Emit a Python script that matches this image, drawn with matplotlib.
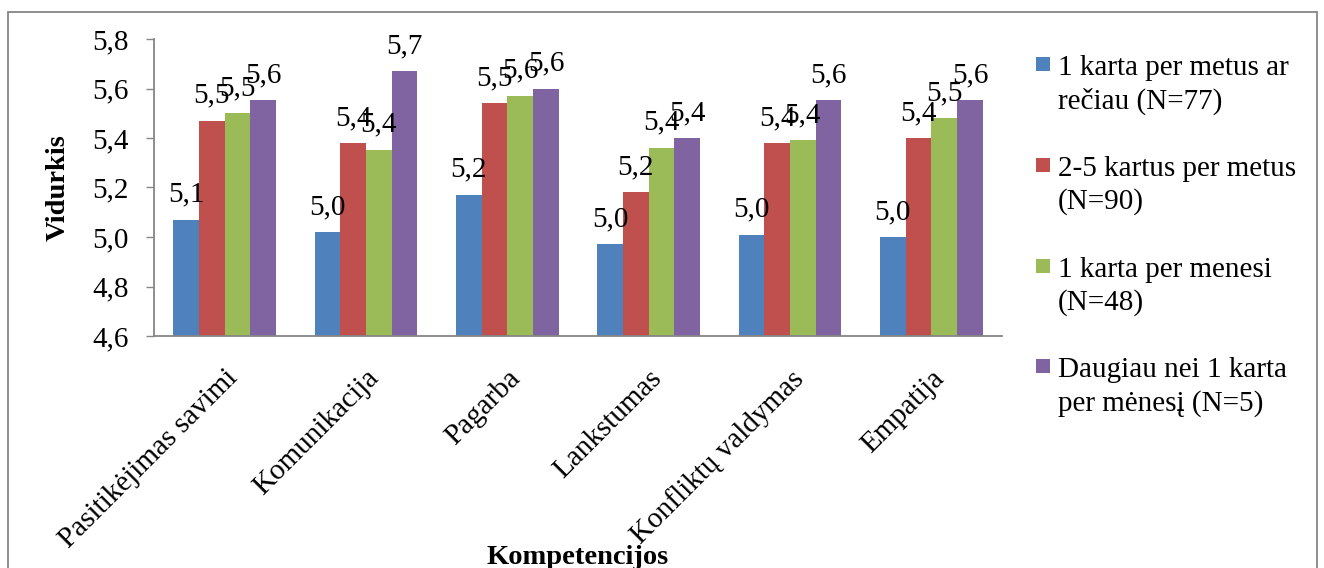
import matplotlib
matplotlib.use("Agg")
import matplotlib.pyplot as plt
import matplotlib.transforms as mtransforms
from matplotlib.patches import Rectangle
import numpy as np

# --- data -------------------------------------------------------------
categories = ["Pasitikėjimas savimi", "Komunikacija", "Pagarba",
              "Lankstumas", "Konfliktų valdymas", "Empatija"]

series_labels = ["1 karta per metus ar\nrečiau (N=77)",
                 "2-5 kartus per metus\n(N=90)",
                 "1 karta per menesi\n(N=48)",
                 "Daugiau nei 1 karta\nper mėnesį (N=5)"]

once_a_year_or_less = [5.07, 5.02, 5.17, 4.97, 5.01, 5.00]
two_to_five_a_year = [5.47, 5.38, 5.54, 5.18, 5.38, 5.40]
once_a_month = [5.50, 5.352, 5.57, 5.36, 5.39, 5.48]
more_than_once_a_month = [5.553, 5.67, 5.60, 5.40, 5.553, 5.553]

y_ticks = [4.6, 4.8, 5.0, 5.2, 5.4, 5.6, 5.8]

colors = ["#4F81BD", "#C0504D", "#9BBB59", "#8064A2"]

# --- figure -----------------------------------------------------------
W, H, DPI = 1324, 568, 100
plt.rcParams["font.family"] = ["Liberation Serif", "DejaVu Serif"]
fig = plt.figure(figsize=(W / DPI, H / DPI), dpi=DPI)
fig.patch.set_facecolor("white")


def fx(px):
    return px / W


def fy(py):
    return 1 - py / H


ax = fig.add_axes([fx(154), fy(336), fx(1002) - fx(154), fy(39) - fy(336)])

series = [once_a_year_or_less, two_to_five_a_year, once_a_month,
          more_than_once_a_month]
n = len(series)
x = np.arange(len(categories))
bar_w = 1 / (n + 1.5)

for j, vals in enumerate(series):
    pos = x + (j - (n - 1) / 2) * bar_w
    bars = ax.bar(pos, vals, width=bar_w, bottom=0, color=colors[j],
                  edgecolor="none", zorder=2)
    for b, v in zip(bars, vals):
        ax.annotate(f"{v:.1f}".replace(".", ","),
                    xy=(b.get_x() + b.get_width() / 2, v),
                    xytext=(0, 13), textcoords="offset points",
                    ha="center", va="baseline", fontsize=21, color="black",
                    zorder=3)

ax.set_ylim(4.6, 5.8)
ax.set_xlim(-0.5, len(categories) - 0.5)
ax.set_yticks(y_ticks)
ax.set_yticklabels([f"{t:.1f}".replace(".", ",") for t in y_ticks])

ax.set_xticks(x)
ax.set_xticklabels(categories, rotation=45, ha="right", va="top",
                   rotation_mode="anchor", fontsize=21)
shift = mtransforms.ScaledTranslation(4 / DPI, 0, fig.dpi_scale_trans)
for lbl in ax.get_xticklabels():
    lbl.set_transform(lbl.get_transform() + shift)

ax.tick_params(axis="y", direction="out", length=5.8, width=1,
               color="#868686", labelsize=21, pad=12.5)
ax.tick_params(axis="x", length=0, pad=21)

for side in ("top", "right"):
    ax.spines[side].set_visible(False)
for side in ("left", "bottom"):
    ax.spines[side].set_color("#868686")
    ax.spines[side].set_linewidth(1.3)

ax.set_ylabel("Vidurkis", fontsize=20.5, fontweight="bold", va="center")
ax.yaxis.set_label_coords((58 - 154) / 848, 0.5)
ax.set_xlabel("Kompetencijos", fontsize=20.5, fontweight="bold",
              va="baseline")
ax.xaxis.set_label_coords(0.5, (336 - 564) / 297)

# --- legend (square key aligned with the first text line) -------------
first_baseline = 75
entry_step = 100.8
line_step = 33.3
for j, label in enumerate(series_labels):
    base = first_baseline + j * entry_step
    fig.patches.append(Rectangle((fx(1036), fy(base - 4)), fx(14), 14 / H,
                                 transform=fig.transFigure,
                                 facecolor=colors[j], edgecolor="none"))
    for k, line in enumerate(label.split("\n")):
        fig.text(fx(1058), fy(base + k * line_step), line, fontsize=21,
                 ha="left", va="baseline")

# chart area frame
fig.patches.append(Rectangle((fx(8), -0.2), fx(1317) - fx(8), fy(12) + 0.2,
                             transform=fig.transFigure, facecolor="none",
                             edgecolor="#868686", linewidth=1.3))

fig.savefig("out.png", dpi=DPI)
